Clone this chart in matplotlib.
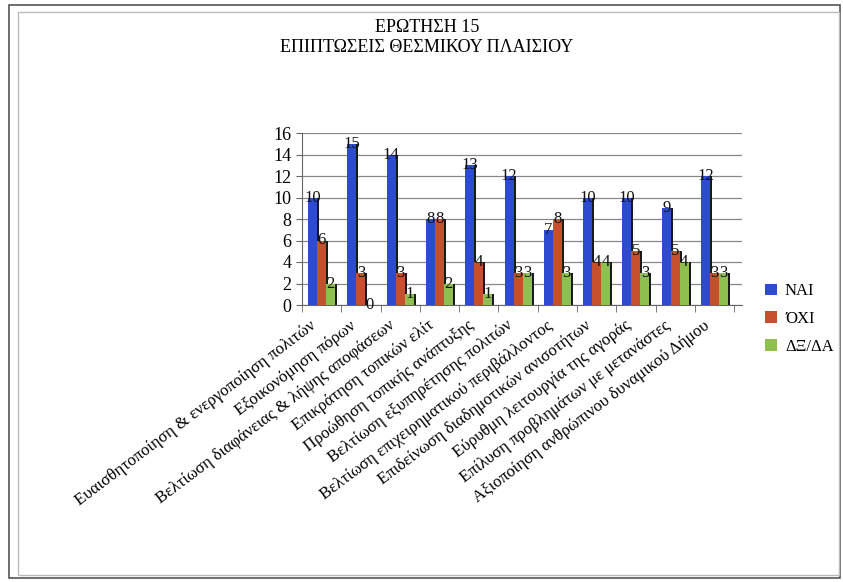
import numpy as np
import matplotlib
matplotlib.use("Agg")
import matplotlib.pyplot as plt
from matplotlib.patches import Rectangle

plt.rcParams["font.family"] = ["Liberation Serif", "DejaVu Serif"]

categories = [
    "Ευαισθητοποίηση & ενεργοποίηση πολιτών",
    "Εξοικονόμηση πόρων",
    "Βελτίωση διαφάνειας & λήψης αποφάσεων",
    "Επικράτηση τοπικών ελίτ",
    "Προώθηση τοπικής ανάπτυξης",
    "Βελτίωση εξυπηρέτησης πολιτών",
    "Βελτίωση επιχειρηματικού περιβάλλοντος",
    "Επιδείνωση διαδημοτικών ανισοτήτων",
    "Εύρυθμη λειτουργία της αγοράς",
    "Επίλυση προβλημάτων με μετανάστες",
    "Αξιοποίηση ανθρώπινου δυναμικού Δήμου",
]
nai = [10, 15, 14, 8, 13, 12, 7, 10, 10, 9, 12]
oxi = [6, 3, 3, 8, 4, 3, 8, 4, 5, 5, 3]
dxda = [2, 0, 1, 2, 1, 3, 3, 4, 3, 4, 3]
series_names = ["ΝΑΙ", "ΌΧΙ", "ΔΞ/ΔΑ"]
colors = ["#2c4bd0", "#c4502e", "#8fbf4f"]
yticks = [0, 2, 4, 6, 8, 10, 12, 14, 16]

W, H = 843, 582
fig = plt.figure(figsize=(W / 100, H / 100), dpi=100)
fig.patch.set_facecolor("white")

# outer frames of the chart box
fig.add_artist(Rectangle((9 / W, 4 / H), 831 / W, 573 / H, transform=fig.transFigure,
                         fill=False, edgecolor="#555555", lw=1.2))
fig.add_artist(Rectangle((18 / W, 7 / H), 821 / W, 563 / H, transform=fig.transFigure,
                         fill=False, edgecolor="#bbbbbb", lw=1.0))

ax = fig.add_axes([302 / W, 1 - 305 / H, 440 / W, 172 / H])
x = np.arange(len(categories))
bw = 0.23
offsets = [-bw, 0, bw]
for vals, off, col, name in zip([nai, oxi, dxda], offsets, colors, series_names):
    # dark side to suggest depth
    ax.bar(x + off + 0.05, vals, bw, bottom=0, color="#1a1a1a", zorder=2)
    ax.bar(x + off, vals, bw, color=col, zorder=3, label=name)
    for xi, v in zip(x + off, vals):
        ax.text(xi, v, str(v), ha="center", va="center", fontsize=12,
                color="#111111", zorder=4)

ax.set_xlim(-0.5, len(categories) - 0.5 + 0.2)
ax.set_ylim(0, 16)
ax.set_yticks(yticks)
ax.tick_params(axis="y", labelsize=13, length=4, color="#666666")
ax.yaxis.grid(True, color="#888888", lw=0.9, zorder=0)
ax.set_axisbelow(True)
for s in ["top", "right"]:
    ax.spines[s].set_visible(False)
ax.spines["left"].set_color("#666666")
ax.spines["bottom"].set_color("#666666")

ax.set_xticks(np.arange(len(categories) + 1) - 0.5, minor=True)
ax.set_xticks(x - 0.3)
ax.set_xticklabels(categories, rotation=37, ha="right", rotation_mode="anchor",
                   fontsize=12.2)
ax.tick_params(axis="x", which="major", length=0, pad=9)
ax.tick_params(axis="x", which="minor", length=5, color="#666666")

fig.text(427 / W, 1 - 28 / H, "ΕΡΩΤΗΣΗ 15", ha="center", va="center", fontsize=13)
fig.text(427 / W, 1 - 47 / H, "ΕΠΙΠΤΩΣΕΙΣ ΘΕΣΜΙΚΟΥ ΠΛΑΙΣΙΟΥ", ha="center",
         va="center", fontsize=13)

handles, labels = ax.get_legend_handles_labels()
fig.legend(handles, labels, loc="center left", bbox_to_anchor=(750 / W, 1 - 319 / H),
           frameon=False, fontsize=12, handlelength=0.7, handleheight=0.7,
           handletextpad=0.5, labelspacing=0.7)

fig.savefig("out.png", dpi=100, facecolor="white")
